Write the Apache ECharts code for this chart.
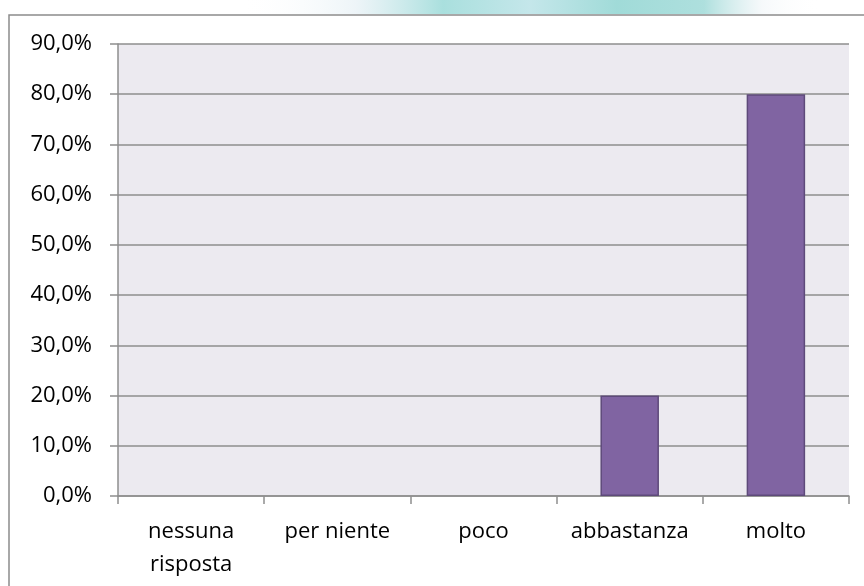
<!DOCTYPE html>
<html>
<head>
<meta charset="utf-8">
<script src="https://cdn.jsdelivr.net/npm/echarts@6/dist/echarts.min.js"></script>
<style>
    html, body { margin: 0; padding: 0; background: #ffffff; }
    #myChart { width: 864px; height: 586px; }
</style>
</head>
<body>
<div id="myChart"></div>
<script>
// categorie e valori (percentuali)
const categories = ['nessuna\nrisposta', 'per niente', 'poco', 'abbastanza', 'molto'];
const values = [0, 0, 0, 20, 80];
const yMin = 0;
const yMax = 90;
const yStep = 10;

const barColor = '#8064A2';
const gridColor = '#8E8E8E';
const fontFamily = '"Open Sans", sans-serif';

let myChart = echarts.init(document.getElementById('myChart'));

// le barre a zero non devono disegnare il bordo
let barData = values.map((v) => {
    return { value: v, itemStyle: { borderWidth: v > 0 ? 1.5 : 0 } };
});

myChart.setOption({
    animation: false,
    backgroundColor: '#ffffff',
    graphic: [
        { // sfondo sfumato in alto
            type: 'rect',
            z: -10,
            shape: { x: 240, y: 0, width: 580, height: 14 },
            style: {
                fill: {
                    type: 'linear', x: 0, y: 0, x2: 1, y2: 0,
                    colorStops: [
                        { offset: 0, color: 'rgba(255,255,255,0)' },
                        { offset: 0.2, color: 'rgba(230,240,245,0.7)' },
                        { offset: 0.35, color: 'rgba(160,220,218,0.9)' },
                        { offset: 0.5, color: 'rgba(190,228,232,0.9)' },
                        { offset: 0.65, color: 'rgba(150,215,212,0.9)' },
                        { offset: 0.8, color: 'rgba(165,220,218,0.9)' },
                        { offset: 0.9, color: 'rgba(240,245,248,0.6)' },
                        { offset: 1, color: 'rgba(255,255,255,0)' }
                    ]
                }
            }
        },
        { // cornice
            type: 'rect',
            z: 100,
            shape: { x: 9, y: 15, width: 900, height: 600 },
            style: { fill: 'none', stroke: '#8c8c8c', lineWidth: 1.5 }
        }
    ],
    grid: {
        show: true,
        left: 118,
        right: 15,
        top: 44,
        bottom: 90,
        backgroundColor: '#ECEAF0',
        borderWidth: 0
    },
    xAxis: {
        type: 'category',
        data: categories,
        axisLine: { lineStyle: { color: gridColor, width: 1.5 } },
        axisTick: { show: true, length: 8, lineStyle: { color: gridColor, width: 1.5 } },
        axisLabel: {
            color: '#000000',
            fontFamily: fontFamily,
            fontSize: 22,
            lineHeight: 33,
            margin: 19,
            interval: 0
        }
    },
    yAxis: {
        type: 'value',
        min: yMin,
        max: yMax,
        interval: yStep,
        axisLine: { show: true, lineStyle: { color: gridColor, width: 1.5 } },
        axisTick: { show: true, length: 8, lineStyle: { color: gridColor, width: 1.5 } },
        splitLine: { show: true, lineStyle: { color: gridColor, width: 1.5 } },
        axisLabel: {
            color: '#000000',
            fontFamily: fontFamily,
            fontSize: 22,
            margin: 26,
            formatter: (v) => v.toFixed(1).replace('.', ',') + '%'
        }
    },
    series: [{
        type: 'bar',
        data: barData,
        barWidth: '40%',
        itemStyle: {
            color: barColor,
            borderColor: '#5E4A7A',
            borderWidth: 1.5
        }
    }]
});
</script>
</body>
</html>
